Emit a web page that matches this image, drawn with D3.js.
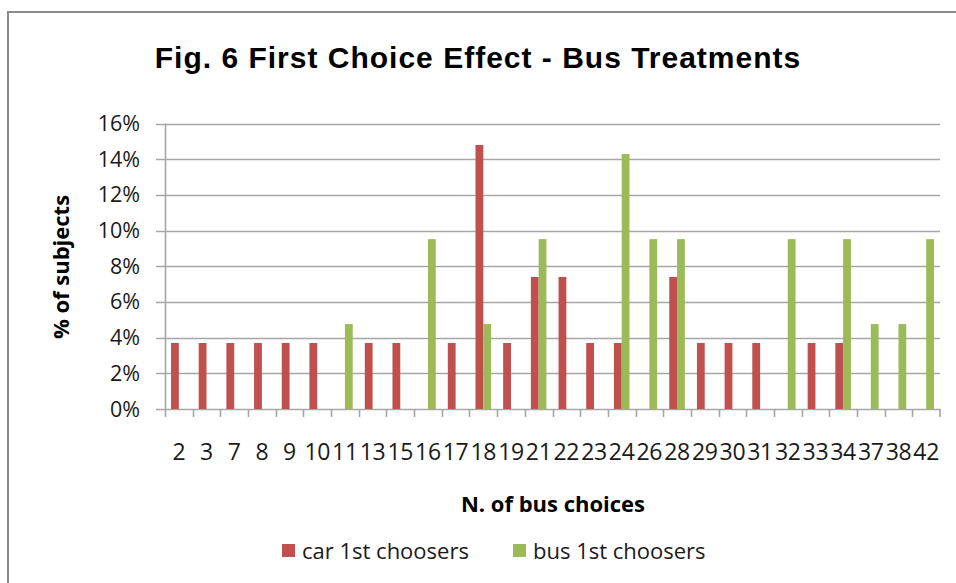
<!DOCTYPE html>
<html>
<head>
<meta charset="utf-8">
<script src="https://cdn.jsdelivr.net/npm/d3@7"></script>
<style>
  body { margin: 0; background: #fff; }
  svg { display: block; }
</style>
</head>
<body>
<script>
// N. of bus choices
var categories = ["2","3","7","8","9","10","11","13","15","16","17","18","19","21",
                  "22","23","24","26","28","29","30","31","32","33","34","37","38","42"];
// % of subjects, car 1st choosers
var carValues = [3.7,3.7,3.7,3.7,3.7,3.7,0,3.7,3.7,0,3.7,14.8,3.7,7.4,
                 7.4,3.7,3.7,0,7.4,3.7,3.7,3.7,0,3.7,3.7,0,0,0];
// % of subjects, bus 1st choosers
var busValues = [0,0,0,0,0,0,4.76,0,0,9.52,0,4.76,0,9.52,
                 0,0,14.29,9.52,9.52,0,0,0,9.52,0,9.52,4.76,4.76,9.52];
var yTicks = [0,2,4,6,8,10,12,14,16];
var seriesNames = ["car 1st choosers", "bus 1st choosers"];
var colors = ["#C0504D", "#9BBB59"];

var width = 956, height = 583;
var plotLeft = 165, plotRight = 940, plotTop = 123.5, plotBottom = 409;
var labelFont = "'Open Sans', sans-serif";

var svg = d3.select("body")
            .append("svg")
            .attr("width", width)
            .attr("height", height);

// chart frame
svg.append("path")
   .attr("d", "M8,583 L8,12 L956,12")
   .attr("fill", "none")
   .attr("stroke", "#8c8c8c")
   .attr("stroke-width", 2);

var x = d3.scaleBand().domain(categories).range([plotLeft, plotRight]);
var y = d3.scaleLinear().domain([0, 16]).range([plotBottom, plotTop]);

// gridlines
svg.selectAll("line.grid")
   .data(yTicks)
   .enter()
   .append("line")
   .attr("class", "grid")
   .attr("x1", plotLeft - 9)
   .attr("x2", plotRight)
   .attr("y1", function(d) { return Math.round(y(d)) + 0.5; })
   .attr("y2", function(d) { return Math.round(y(d)) + 0.5; })
   .attr("stroke", "#a6a6a6")
   .attr("stroke-width", 1.6);

var barW = 7.8;
var rows = categories.map(function(c, i) {
    return {cat: c, car: carValues[i], bus: busValues[i]};
});

svg.selectAll("rect.car")
   .data(rows)
   .enter()
   .append("rect")
   .attr("class", "car")
   .attr("x", function(d) { return x(d.cat) + x.bandwidth() / 2 - barW; })
   .attr("y", function(d) { return y(d.car); })
   .attr("width", barW)
   .attr("height", function(d) { return plotBottom - y(d.car); })
   .attr("fill", colors[0]);

svg.selectAll("rect.bus")
   .data(rows)
   .enter()
   .append("rect")
   .attr("class", "bus")
   .attr("x", function(d) { return x(d.cat) + x.bandwidth() / 2; })
   .attr("y", function(d) { return y(d.bus); })
   .attr("width", barW)
   .attr("height", function(d) { return plotBottom - y(d.bus); })
   .attr("fill", colors[1]);

// axis lines
svg.append("line")
   .attr("x1", plotLeft + 0.5).attr("x2", plotLeft + 0.5)
   .attr("y1", plotTop).attr("y2", plotBottom + 8)
   .attr("stroke", "#a6a6a6").attr("stroke-width", 1.6);

svg.selectAll("line.xtick")
   .data(categories.slice(1).concat(["end"]))
   .enter()
   .append("line")
   .attr("class", "xtick")
   .attr("x1", function(d) { return d == "end" ? plotRight : Math.round(x(d)) + 0.5; })
   .attr("x2", function(d) { return d == "end" ? plotRight : Math.round(x(d)) + 0.5; })
   .attr("y1", plotBottom)
   .attr("y2", plotBottom + 8)
   .attr("stroke", "#a6a6a6")
   .attr("stroke-width", 1.6);

// tick labels
svg.selectAll("text.xlab")
   .data(categories)
   .enter()
   .append("text")
   .attr("class", "xlab")
   .text(function(d) { return d; })
   .attr("x", function(d) { return x(d) + x.bandwidth() / 2; })
   .attr("y", 460)
   .attr("text-anchor", "middle")
   .attr("font-family", labelFont)
   .attr("font-size", "23px")
   .attr("letter-spacing", "-0.3px")
   .attr("fill", "#1a1a1a");

svg.selectAll("text.ylab")
   .data(yTicks)
   .enter()
   .append("text")
   .attr("class", "ylab")
   .text(function(d) { return d + "%"; })
   .attr("x", 140)
   .attr("y", function(d) { return y(d) + 7.5; })
   .attr("text-anchor", "end")
   .attr("font-family", labelFont)
   .attr("font-size", "21.5px")
   .attr("fill", "#1a1a1a");

// titles
svg.append("text")
   .text("Fig. 6 First Choice Effect - Bus Treatments")
   .attr("x", 478)
   .attr("y", 68)
   .attr("text-anchor", "middle")
   .attr("font-family", "'Liberation Sans', Arial, sans-serif")
   .attr("font-weight", "bold")
   .attr("font-size", "30px")
   .attr("letter-spacing", "1px")
   .attr("fill", "#000");

svg.append("text")
   .text("% of subjects")
   .attr("transform", "translate(69,267) rotate(-90)")
   .attr("text-anchor", "middle")
   .attr("font-family", labelFont)
   .attr("font-weight", "bold")
   .attr("font-size", "22px")
   .attr("fill", "#000");

svg.append("text")
   .text("N. of bus choices")
   .attr("x", 553)
   .attr("y", 512)
   .attr("text-anchor", "middle")
   .attr("font-family", labelFont)
   .attr("font-weight", "bold")
   .attr("font-size", "22px")
   .attr("fill", "#000");

// legend
var legendX = [282, 513];
var leg = svg.selectAll("g.legend")
   .data(seriesNames)
   .enter()
   .append("g")
   .attr("class", "legend")
   .attr("transform", function(d, i) { return "translate(" + legendX[i] + ",544)"; });

leg.append("rect")
   .attr("width", 13)
   .attr("height", 13)
   .attr("fill", function(d, i) { return colors[i]; });

leg.append("text")
   .text(function(d) { return d; })
   .attr("x", 20)
   .attr("y", 14.5)
   .attr("font-family", labelFont)
   .attr("font-size", "22px")
   .attr("fill", "#1a1a1a");
</script>
</body>
</html>
